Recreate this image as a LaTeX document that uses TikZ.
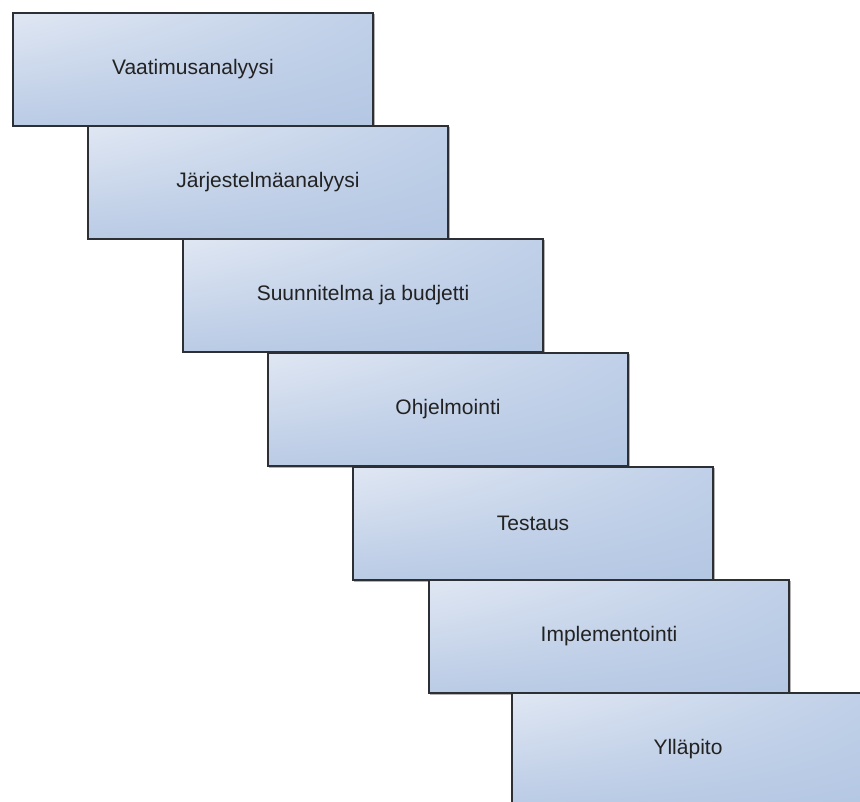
\documentclass[tikz,border=0pt]{standalone}
\usepackage{fontspec}
\setmainfont{Liberation Sans}
\usetikzlibrary{shadings}
\definecolor{stepUL}{HTML}{E0E7F3}
\definecolor{stepUR}{HTML}{C0D0E8}
\definecolor{stepLL}{HTML}{BACBE5}
\definecolor{stepLR}{HTML}{B4C7E3}
\definecolor{stepedge}{HTML}{2C3034}
\definecolor{steptext}{HTML}{222222}
\tikzset{
  stepbox/.style={
    rectangle, minimum width=360pt, minimum height=113pt, inner sep=0pt,
    upper left=stepUL, upper right=stepUR, lower left=stepLL, lower right=stepLR,
    draw=stepedge, line width=2pt,
    font=\fontsize{21}{25}\selectfont, text=steptext
  },
  stepshadow/.style={draw=gray!60, line width=2pt}
}
\begin{document}
\begin{tikzpicture}[x=1pt,y=-1pt]
  \useasboundingbox[fill=white] (0,0) rectangle (860,802);
  % soft grey shadow lines beside each step's right and bottom edge
  \foreach \x/\y/\w in {12/12/360, 87/125/360, 182/238/360, 267/352/360, 352/466/360, 428/579/360, 511/692/352}{
    \draw[stepshadow] (\x+2,\y+113+1.5) -- (\x+\w+1.5,\y+113+1.5) -- (\x+\w+1.5,\y+2);
  }
  \node[stepbox, anchor=north west] (s1) at (12,12)  {Vaatimusanalyysi};
  \node[stepbox, anchor=north west] (s2) at (87,125) {Järjestelmäanalyysi};
  \node[stepbox, anchor=north west] (s3) at (182,238) {Suunnitelma ja budjetti};
  \node[stepbox, anchor=north west] (s4) at (267,352) {Ohjelmointi};
  \node[stepbox, anchor=north west] (s5) at (352,466) {Testaus};
  \node[stepbox, anchor=north west] (s6) at (428,579) {Implementointi};
  \node[stepbox, anchor=north west, minimum width=352pt] (s7) at (511,692) {Ylläpito};
\end{tikzpicture}
\end{document}
